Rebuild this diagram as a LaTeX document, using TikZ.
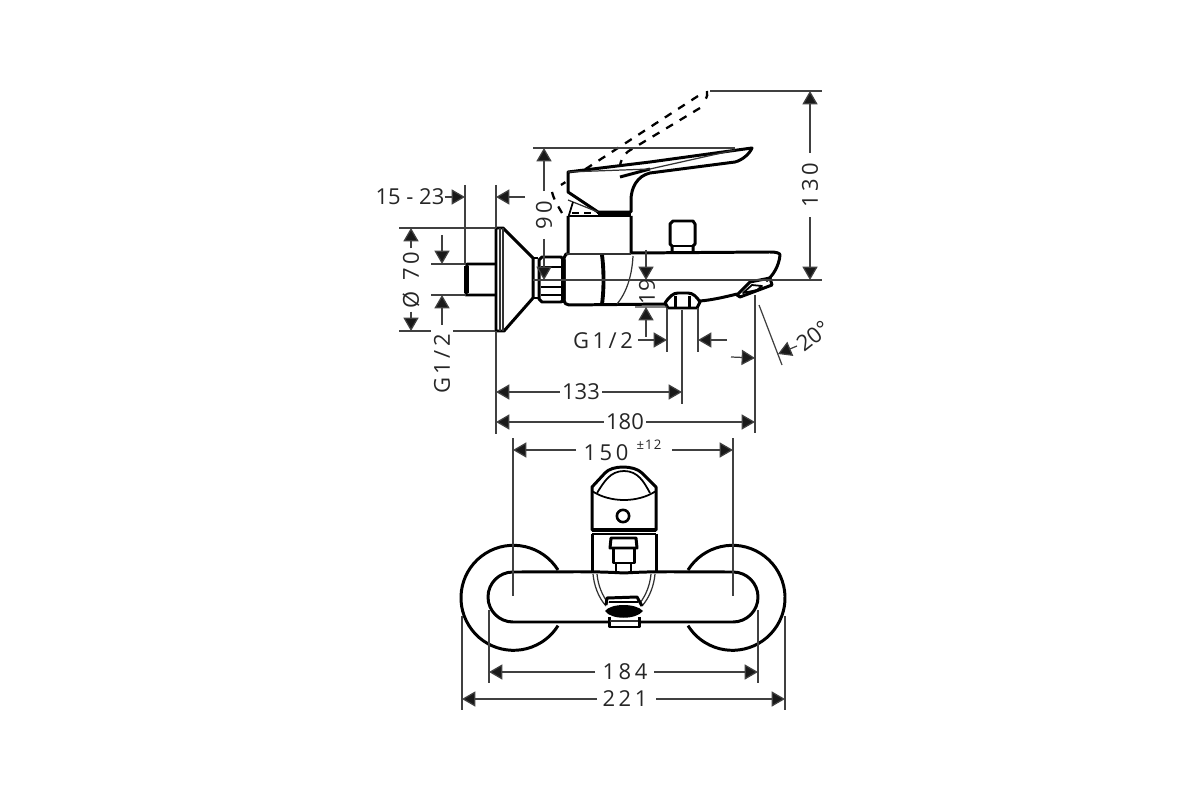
\documentclass[tikz,border=0pt]{standalone}
\usepackage{fontspec}
\setmainfont{Open Sans}
\usetikzlibrary{arrows.meta}

\tikzset{
    dim/.style={draw=black!75, line width=0.7pt},
    dimarrow/.style={dim, -{Triangle[length=7.6pt,width=8.6pt,fill=black!90]}},
    outline/.style={draw=black, line width=1.7pt, line join=round},
    thinline/.style={draw=black!80, line width=0.7pt},
    hidden/.style={draw=black, line width=1.3pt, dash pattern=on 4.5pt off 4.5pt},
    label/.style={inner sep=0pt, font=\fontsize{12.5}{14}\selectfont, text=black!85},
    widelabel/.style={label, font=\fontsize{12.5}{14}\selectfont\addfontfeature{LetterSpace=16}}
}

\begin{document}
\begin{tikzpicture}[x=0.02cm, y=-0.02cm]
    \useasboundingbox (0,0) rectangle (1200,800);

    % Side view: wall stub and escutcheon
    \draw[outline] (496,264) -- (467,264) -- (466,295) -- (496,295);
    \draw[outline, line width=2.4pt] (466.5,266) -- (466.5,293);
    \draw[outline] (496,331) -- (496,228) -- (503,228) -- (533,258) -- (533,298) -- (504,331) -- (496,331);
    \draw[thinline] (500,228) -- (500,331) (503,228) -- (503,331);
    \draw[outline] (533,258) -- (538,258) (533,298) -- (538,298);
    % Nut
    \draw[outline] (539,260) -- (542,257) -- (561,257) -- (564,260) -- (564,299) -- (561,302) -- (542,302) -- (539,299) -- cycle;
    \foreach \slat in {267,280,287,295}
        \draw[outline, line width=1.2pt] (541,\slat) -- (562,\slat);
    \draw[outline, line width=2.2pt] (563,257) -- (563,303);

    % Side view: body and spout
    \draw[outline] (564,300) -- (564,258) -- (566,254) -- (568,254) -- (568,216) (631,216) -- (631,253) -- (770,252) .. controls (776,252) and (780,253) .. (780,255) .. controls (779,266) and (773,276) .. (766,281);
    \draw[thinline] (566,254) -- (631,254);
    \draw[outline] (564,300) .. controls (564,303) and (566,305) .. (569,305) -- (667,304);
    \draw[outline, line width=2.2pt] (602,255) .. controls (604,270) and (604,290) .. (602,304);
    \draw[thinline] (633,256) .. controls (632,275) and (627,292) .. (617,304);
    \draw[outline] (700,301) .. controls (712,300) and (725,297) .. (737,294);
    % Side view: diverter knob
    \draw[outline] (672,252) -- (672,246) -- (670,244) -- (670,224) -- (673,221) -- (693,221) -- (695,224) -- (695,244) -- (693,246) -- (693,252);
    \draw[outline, line width=1pt] (673,246) -- (692,246);
    % Side view: aerator
    \draw[outline] (737,295) -- (750,282) -- (770,278) -- (772,285) -- (740,297) -- cycle;
    \draw[outline, line width=1pt] (743,293) -- (752,285) -- (762,286) -- (757,290) -- cycle;
    % Side view: lower outlet
    \draw[outline] (665,303) .. controls (669,297) and (673,293) .. (678,293) -- (688,293) .. controls (693,293) and (697,297) .. (700,302) -- (697,308) -- (668,308) -- cycle;
    \draw[outline] (675,296) -- (675,307) (689,296) -- (689,307);

    % Raised lever (dashed)
    \draw[hidden] (707,91) .. controls (708,94) and (707,97) .. (705,100) (698,96) -- (561,185) (552,192) .. controls (554,200) and (558,206) .. (562,213);
    \draw[hidden] (700,108) -- (632,149) .. controls (626,152) and (622,157) .. (620,165);

    % Side view: lever
    \fill[white] (568,172) -- (568,197) -- (598,212) -- (631,212) -- (631,196) -- (650,172) -- (735,162) -- (752,148) -- cycle;
    \draw[outline] (568,172) -- (568,192) -- (598,212) -- (631,212) -- (631,200) .. controls (631,188) and (637,176) .. (650,173) -- (735,162) .. controls (743,160) and (750,153) .. (752,148) -- (650,162) -- cycle;
    \draw[outline] (620,177) -- (650,169);
    \draw[thinline] (568,172) -- (650,169) -- (735,150);
    \draw[thinline] (568,200) -- (598,212);
    \draw[outline, line width=1pt] (569,215) -- (573,202);
    \draw[outline, line width=1pt, dash pattern=on 4pt off 3pt] (572,213) -- (598,213);
    \draw[outline] (568,216) -- (631,216);
    \draw[outline, line width=2.2pt] (598,213) -- (631,213);

    % Top view: handle
    \draw[outline] (592,530) -- (592,487) -- (605,473) .. controls (612,465) and (634,465) .. (642,473) -- (656,487) -- (656,530) -- cycle;
    \draw[outline, line width=1pt] (592,491) .. controls (610,503) and (638,503) .. (656,491);
    \draw[outline, line width=1pt] (597,493) .. controls (604,482) and (610,471) .. (624,471) .. controls (638,471) and (644,482) .. (650,493);
    \node[circle, draw, line width=1.5pt, minimum size=7pt, inner sep=0pt] (hole) at (623,516) {};
    \draw[outline, line width=2.2pt] (592,530) -- (656,530);
    \draw[outline] (592,534) -- (656,534);
    \draw[outline] (592,534) -- (592,572) (656,534) -- (656,572);
    % Top view: knob
    \draw[outline] (611,538) -- (636,538) -- (637,548) -- (610,548) -- cycle;
    \draw[outline] (613,548) -- (613,563) -- (634,563) -- (634,548);
    \draw[outline, line width=1pt] (616,563) -- (616,571) (631,563) -- (631,571);

    % Top view: escutcheons
    \draw[outline] (558,570) arc[start angle=-32, end angle=-328, radius=52.5];
    \draw[outline] (688,570) arc[start angle=212, end angle=508, radius=52.5];
    % Top view: body
    \draw[outline] (609,622) -- (513,622) arc[start angle=90, end angle=270, radius=25] .. controls (570,572) and (590,571) .. (624,573) .. controls (655,571) and (680,572) .. (733,572) arc[start angle=-90, end angle=90, radius=25] -- (640,622);
    \draw[thinline] (593,574) .. controls (594,585) and (598,597) .. (606,606) (597,574) .. controls (598,585) and (602,595) .. (608,603);
    \draw[thinline] (655,574) .. controls (654,585) and (650,597) .. (642,606) (651,574) .. controls (650,585) and (646,595) .. (640,603);
    % Top view: outlet
    \draw[outline] (606,605) -- (607,598) -- (637,597) -- (642,606);
    \draw[outline, line width=1pt] (609,602) -- (638,602);
    \fill (605,611) .. controls (611,603) and (636,603) .. (643,611) .. controls (636,620) and (611,620) .. (605,611) -- cycle;
    \draw[outline] (609,617) -- (609,627) -- (639,627) -- (639,617);
    \draw[thinline] (610,621) -- (638,621);

    % Extension lines
    \draw[dim] (465,185) -- (465,265) (496,185) -- (496,228);
    \draw[dim] (533,148) -- (735,148) (710,91) -- (822,91) (533,280) -- (822,280);
    \draw[dim] (399,228) -- (496,228) (399,331) -- (431,331) (453,331) -- (495,331);
    \draw[dim] (431,264) -- (466,264) (431,295) -- (466,295);
    \draw[dim] (496,331) -- (496,434) (755,295) -- (755,433) (682,310) -- (682,404);
    \draw[dim] (667,308) -- (667,352) (698,308) -- (698,352);
    \draw[dim] (635,307) -- (667,307) (759,305) -- (782,365);
    \draw[dim] (513,438) -- (513,596) (733,438) -- (733,596);
    \draw[dim] (489,610) -- (489,683) (758,610) -- (758,683);
    \draw[dim] (462,616) -- (462,710) (785,616) -- (785,710);

    % Dimension labels
    \node[label] (gap) at (410,197) {15 - 23};
    \node[widelabel, rotate=90, outer sep=5.5pt] (ninety) at (544,215) {90};
    \node[widelabel, rotate=90, outer sep=5.5pt] (height) at (810,185) {130};
    \node[widelabel, rotate=90, outer sep=2pt] (dia) at (411,280) {Ø\hspace{6pt}70};
    \node[widelabel, rotate=90] (wallthread) at (442,364) {G1/2};
    \node[label, rotate=90] (drop) at (647,292) {19};
    \node[widelabel] (outthread) at (603,341) {G1/2};
    \node[label, rotate=38] (angle) at (813,336) {20°};
    \node[label, outer sep=1.5pt] (reach) at (581,392) {133};
    \node[label, outer sep=1.5pt] (total) at (625,422) {180};
    \node[widelabel, outer sep=5pt] (centres) at (606,453) {150};
    \node[label, font=\fontsize{7.5}{9}\selectfont\addfontfeature{LetterSpace=8}] (tol) at (649,445) {±12};
    \node[widelabel] (body) at (625,672) {184};
    \node[widelabel] (plate) at (625,699) {221};

    % Dimension arrows
    \draw[dimarrow] (gap.east) -- (465,197);
    \draw[dimarrow] (525,197) -- (496,197);
    \draw[dimarrow] (ninety.east) -- (544,148);
    \draw[dimarrow] (ninety.west) -- (544,280);
    \draw[dimarrow] (height.east) -- (810,91);
    \draw[dimarrow] (height.west) -- (810,280);
    \draw[dimarrow] (dia.east) -- (411,228);
    \draw[dimarrow] (dia.west) -- (411,331);
    \draw[dimarrow] (442,235) -- (442,264);
    \draw[dimarrow] (442,325) -- (442,295);
    \draw[dimarrow] (646,250) -- (646,280);
    \draw[dimarrow] (646,337) -- (646,307);
    \draw[dimarrow] (638,340) -- (667,340);
    \draw[dimarrow] (727,340) -- (698,340);
    \draw[dimarrow] (731,357) -- (755,358);
    \draw[dimarrow] (797,346) -- (778,354);
    \draw[dimarrow] (reach.west) -- (496,392);
    \draw[dimarrow] (reach.east) -- (682,392);
    \draw[dimarrow] (total.west) -- (496,422);
    \draw[dimarrow] (total.east) -- (755,422);
    \draw[dimarrow] (576,450) -- (513,450);
    \draw[dimarrow] (672,450) -- (733,450);
    \draw[dimarrow] (595,672) -- (489,672);
    \draw[dimarrow] (654,672) -- (758,672);
    \draw[dimarrow] (597,699) -- (462,699);
    \draw[dimarrow] (656,699) -- (785,699);
\end{tikzpicture}
\end{document}
